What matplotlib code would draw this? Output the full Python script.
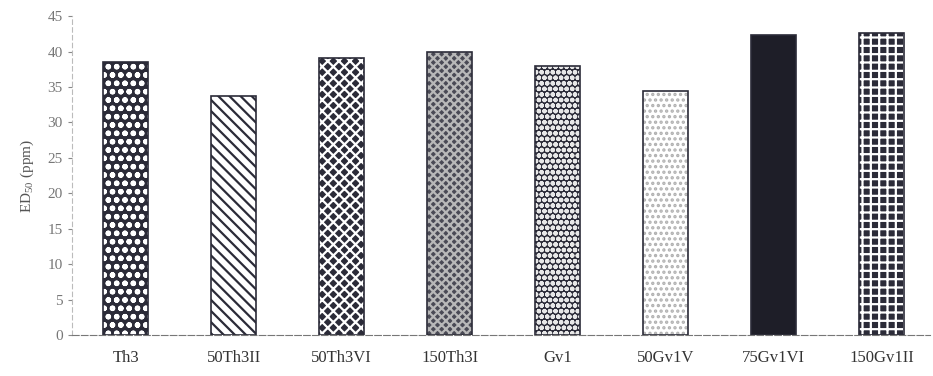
import matplotlib
matplotlib.use("Agg")
import matplotlib.pyplot as plt

categories = ["Th3", "50Th3II", "50Th3VI", "150Th3I", "Gv1", "50Gv1V", "75Gv1VI", "150Gv1II"]
tick_labels = ["Th3", "50Th3II", "50Th3VI", "150Th3I", "Gv1", "50Gv1V", "75Gv1VI", "150Gv1II"]
ed50 = [38.5, 33.7, 39.1, 40.0, 37.9, 34.5, 42.4, 42.6]

# (face colour, hatch, hatch colour) per bar
styles = [
    ("#2b2b38", "oo", "white"),
    ("white", "\\\\\\", "#2b2b38"),
    ("#2b2b38", "xxx", "white"),
    ("#4a4a55", "xxxx", "#b8b8b8"),
    ("#2b2b38", "ooo", "#e8e8e8"),
    ("white", "...", "#b0b0b0"),
    ("#1e1e28", "", "#1e1e28"),
    ("#2b2b38", "++", "white"),
]

plt.rcParams.update({
    "font.family": "Liberation Serif",
    "mathtext.fontset": "custom",
    "mathtext.rm": "Liberation Serif",
    "hatch.linewidth": 1.6,
})

fig = plt.figure(figsize=(9.33, 3.76), dpi=100)
ax = fig.add_axes([0.077, 0.109, 0.92, 0.848])

x = list(range(len(categories)))
for i, (val, (face, hatch, hcol)) in enumerate(zip(ed50, styles)):
    ax.bar(i, val, width=0.42, color=face, edgecolor=hcol, hatch=hatch, linewidth=0)
    ax.bar(i, val, width=0.42, fill=False, edgecolor="#2b2b38", linewidth=1.2)

ax.set_xlim(-0.5, 7.45)
ax.set_ylim(0, 45)
ax.set_yticks(range(0, 46, 5))
ax.set_xticks(x, tick_labels)
ax.tick_params(axis="x", length=0, pad=11, labelsize=12, colors="#333333")
ax.tick_params(axis="y", length=3, labelsize=11, colors="#888888", labelcolor="#777777")
ax.set_ylabel(r"ED$_{\mathrm{50}}$ (ppm)", fontsize=11, color="#555555", labelpad=8)

for side in ["top", "right"]:
    ax.spines[side].set_visible(False)
ax.spines["left"].set_color("#bbbbbb")
ax.spines["left"].set_linestyle((0, (4, 3)))
ax.spines["bottom"].set_color("#777777")
ax.spines["bottom"].set_linestyle((0, (6, 2)))

fig.savefig("out.png", dpi=100)
